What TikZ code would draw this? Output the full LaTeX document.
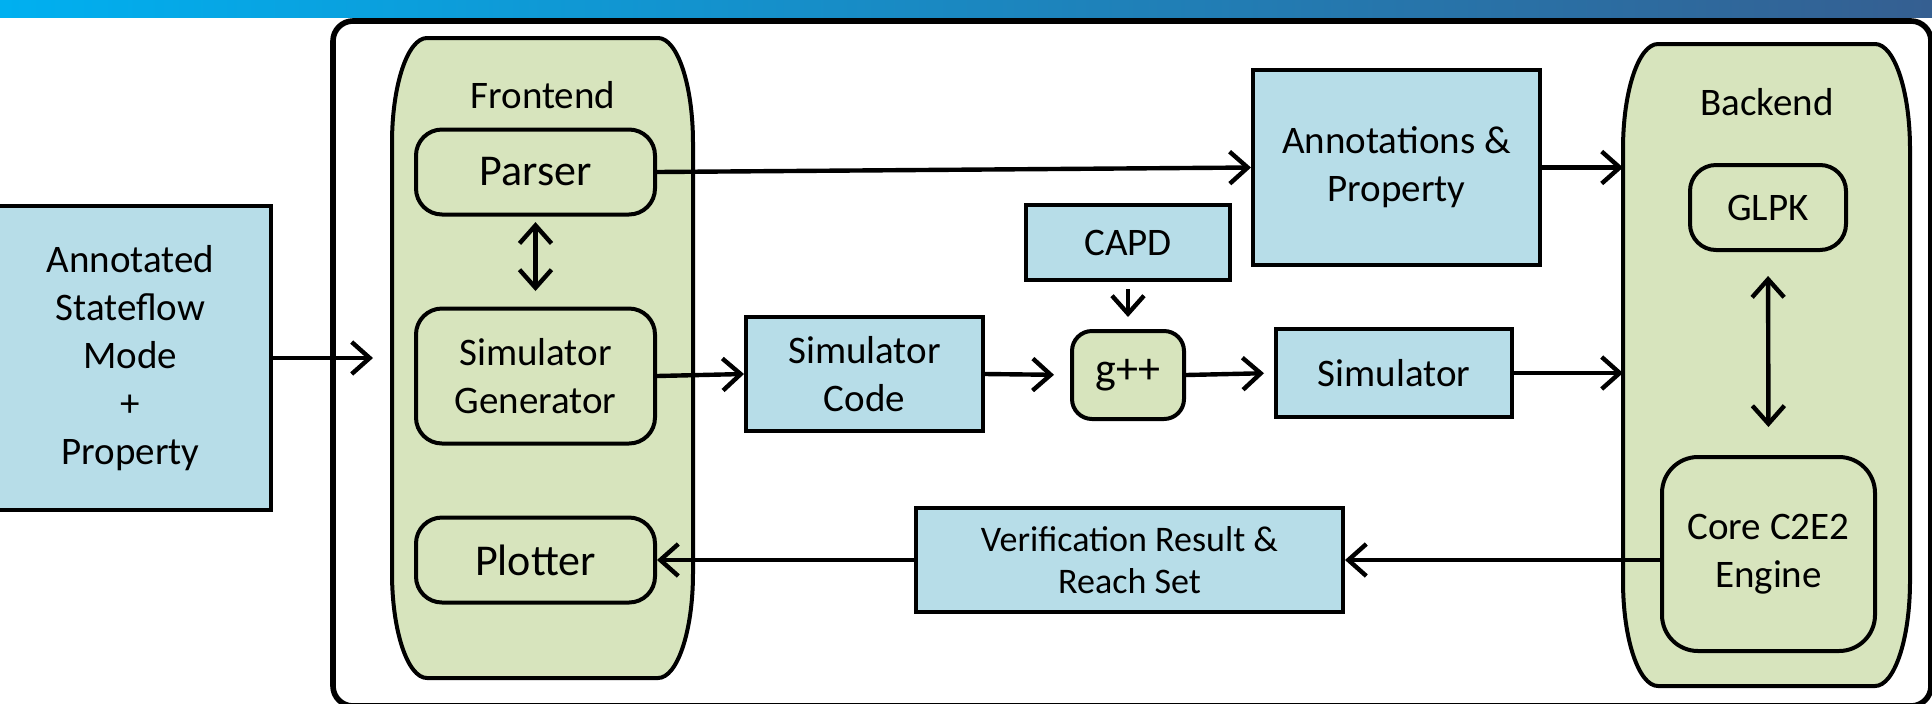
\documentclass[tikz,border=0pt]{standalone}
\usepackage{fontspec}
\setmainfont{Carlito}
\usetikzlibrary{arrows.meta}
\definecolor{boxblue}{RGB}{183,221,232}
\definecolor{boxgreen}{RGB}{215,228,189}
\definecolor{barleft}{RGB}{0,176,240}
\definecolor{barright}{RGB}{53,95,145}
\begin{document}
\begin{tikzpicture}[x=0.5pt,y=-0.5pt,
    font=\fontsize{19.5}{24}\selectfont,
    bluebox/.style={draw, line width=2pt, fill=boxblue, align=center, inner sep=0pt},
    greenbox/.style={draw, line width=2pt, fill=boxgreen, align=center, inner sep=0pt, rounded corners=13pt},
    panel/.style={draw, line width=2pt, fill=boxgreen},
    arr/.style={line width=2.2pt, -{Straight Barb[length=9pt,width=16pt]}},
    darr/.style={line width=2.2pt, {Straight Barb[length=9pt,width=16pt]}-{Straight Barb[length=9pt,width=16pt]}}]
    \useasboundingbox (0,0) rectangle (1932,703);
    \clip (0,0) rectangle (1932,703);
    % title bar and frame
    \shade[left color=barleft, right color=barright] (0,0) rectangle (1932,17);
    \draw[line width=2.8pt, rounded corners=10pt] (333,21) rectangle (1931,706);
    % frontend and backend panels
    \draw[panel] (392,143) arc[start angle=180, end angle=270, x radius=35, y radius=105] -- (658,38)
        arc[start angle=270, end angle=360, x radius=35, y radius=105] -- (693,573)
        arc[start angle=0, end angle=90, x radius=35, y radius=105] -- (427,678)
        arc[start angle=90, end angle=180, x radius=35, y radius=105] -- cycle;
    \draw[panel] (1623,149) arc[start angle=180, end angle=270, x radius=35, y radius=105] -- (1875,44)
        arc[start angle=270, end angle=360, x radius=35, y radius=105] -- (1910,581)
        arc[start angle=0, end angle=90, x radius=35, y radius=105] -- (1658,686)
        arc[start angle=90, end angle=180, x radius=35, y radius=105] -- cycle;
    \node (frontlbl) at (543,95) {Frontend};
    \node (backlbl) at (1767,102) {Backend};
    \coordinate (frontW) at (392,358);
    \coordinate (backW) at (1623,375);
    % boxes
    \node[bluebox, minimum width=140.5pt, minimum height=152pt] (input) at (130.5,358) {Annotated\\Stateflow\\Mode\\+\\Property};
    \node[greenbox, minimum width=119.5pt, minimum height=42.5pt, font=\fontsize{22}{26}\selectfont] (parser) at (535.5,172) {Parser};
    \node[greenbox, minimum width=119.5pt, minimum height=67.5pt] (simgen) at (535.5,376) {Simulator\\Generator};
    \node[greenbox, minimum width=119.5pt, minimum height=42.5pt, font=\fontsize{22}{26}\selectfont] (plotter) at (535.5,560) {Plotter};
    \node[bluebox, minimum width=118.5pt, minimum height=57pt] (simcode) at (864.5,374) {Simulator\\Code};
    \node[bluebox, minimum width=102pt, minimum height=37.5pt] (capd) at (1128,242.5) {CAPD};
    \node[greenbox, rounded corners=10pt, minimum width=56pt, minimum height=44pt, font=\fontsize{22}{26}\selectfont] (gpp) at (1128,375) {g++};
    \node[bluebox, minimum width=118pt, minimum height=44pt] (simr) at (1394,373) {Simulator};
    \node[bluebox, minimum width=143.5pt, minimum height=97.5pt] (annot) at (1396.5,167.5) {Annotations \&\\Property};
    \node[greenbox, minimum width=78pt, minimum height=42.5pt] (glpk) at (1768,207.5) {GLPK};
    \node[greenbox, rounded corners=18pt, minimum width=106.5pt, minimum height=97pt] (core) at (1768.5,554) {Core C2E2\\Engine};
    \node[bluebox, minimum width=213.5pt, minimum height=52pt, font=\fontsize{18}{21}\selectfont] (verif) at (1129.5,560) {Verification Result \&\\Reach Set};
    % connectors
    \draw[arr, shorten >=9.5pt] (input.east) -- (frontW);
    \draw[arr] (parser.east) -- (annot.west);
    \draw[arr] (annot.east) -- (annot.east -| backW);
    \draw[darr, shorten <=2.8pt, shorten >=7.75pt] (parser.south) -- (simgen.north);
    \draw[arr] (simgen.east) -- (simcode.west);
    \draw[arr, shorten >=8pt] (simcode.east) -- (gpp.west);
    \draw[arr, shorten >=5pt] (gpp.east) -- (simr.west);
    \draw[arr] (simr.east) -- (simr.east -| backW);
    \draw[arr, shorten <=3.5pt, shorten >=6pt] (capd.south) -- (gpp.north);
    \draw[darr, shorten <=12pt, shorten >=14pt] (glpk.south) -- (core.north);
    \draw[arr] (core.west |- verif.east) -- (verif.east);
    \draw[arr] (verif.west) -- (plotter.east);
\end{tikzpicture}
\end{document}
